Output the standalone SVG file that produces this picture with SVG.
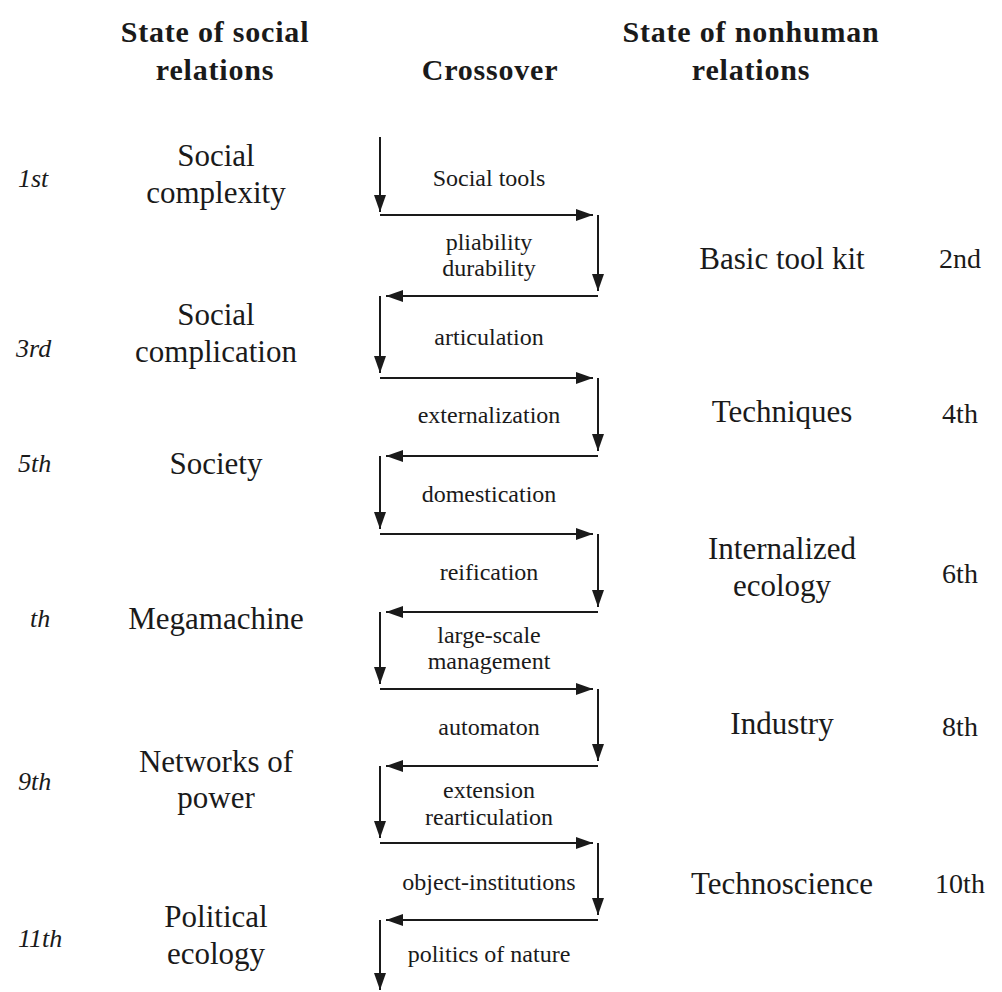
<svg xmlns="http://www.w3.org/2000/svg" width="1002" height="992" viewBox="0 0 1002 992">
<defs>
<style>
text{font-family:"Liberation Serif","Times New Roman",serif;fill:#1a1a1a}
.hd{font-size:30px;font-weight:bold;letter-spacing:0.8px;text-anchor:middle}
.nd{font-size:31px;text-anchor:middle}
.cx{font-size:24px;text-anchor:middle}
.ol{font-size:26px;font-style:italic}
.or{font-size:28px;text-anchor:middle}
.ar{stroke:#1a1a1a;stroke-width:2;fill:none;marker-end:url(#ah)}
</style>
<marker id="ah" markerUnits="userSpaceOnUse" markerWidth="17" markerHeight="12" refX="17" refY="6" orient="auto">
<path d="M0,0 L17,6 L0,12 z" fill="#1a1a1a"/>
</marker>
</defs>
<rect width="1002" height="992" fill="#ffffff"/>
<g id="headers">
<text class="hd" x="215" y="42">State of social</text>
<text class="hd" x="215" y="80">relations</text>
<text class="hd" x="490" y="80">Crossover</text>
<text class="hd" x="751" y="42">State of nonhuman</text>
<text class="hd" x="751" y="80">relations</text>
</g>
<g id="social-complexity"><text class="ol" x="18" y="187">1st</text><text class="nd" x="216" y="166">Social</text><text class="nd" x="216" y="203">complexity</text></g>
<g id="basic-tool-kit"><text class="nd" x="782" y="269">Basic tool kit</text><text class="or" x="960" y="268">2nd</text></g>
<g id="social-complication"><text class="ol" x="16" y="357">3rd</text><text class="nd" x="216" y="325">Social</text><text class="nd" x="216" y="362">complication</text></g>
<g id="techniques"><text class="nd" x="782" y="422">Techniques</text><text class="or" x="960" y="423">4th</text></g>
<g id="society"><text class="ol" x="18" y="472">5th</text><text class="nd" x="216" y="474">Society</text></g>
<g id="internalized-ecology"><text class="nd" x="782" y="559">Internalized</text><text class="nd" x="782" y="596">ecology</text><text class="or" x="960" y="583">6th</text></g>
<g id="megamachine"><text class="ol" x="30" y="627">th</text><text class="nd" x="216" y="629">Megamachine</text></g>
<g id="industry"><text class="nd" x="782" y="734">Industry</text><text class="or" x="960" y="736">8th</text></g>
<g id="networks-of-power"><text class="ol" x="18" y="790">9th</text><text class="nd" x="216" y="772">Networks of</text><text class="nd" x="216" y="808">power</text></g>
<g id="technoscience"><text class="nd" x="782" y="894">Technoscience</text><text class="or" x="960" y="893">10th</text></g>
<g id="political-ecology"><text class="ol" x="18" y="947">11th</text><text class="nd" x="216" y="927">Political</text><text class="nd" x="216" y="964">ecology</text></g>
<g id="connectors">
<line class="ar" x1="380" y1="137" x2="380" y2="212"/>
<line class="ar" x1="380" y1="215" x2="593" y2="215"/>
<line class="ar" x1="598" y1="215" x2="598" y2="291"/>
<line class="ar" x1="598" y1="296" x2="386" y2="296"/>
<line class="ar" x1="380" y1="296" x2="380" y2="373"/>
<line class="ar" x1="380" y1="378" x2="593" y2="378"/>
<line class="ar" x1="598" y1="378" x2="598" y2="451"/>
<line class="ar" x1="598" y1="456" x2="386" y2="456"/>
<line class="ar" x1="380" y1="456" x2="380" y2="529"/>
<line class="ar" x1="380" y1="534" x2="593" y2="534"/>
<line class="ar" x1="598" y1="534" x2="598" y2="607"/>
<line class="ar" x1="598" y1="612" x2="386" y2="612"/>
<line class="ar" x1="380" y1="612" x2="380" y2="684"/>
<line class="ar" x1="380" y1="689" x2="593" y2="689"/>
<line class="ar" x1="598" y1="689" x2="598" y2="761"/>
<line class="ar" x1="598" y1="766" x2="386" y2="766"/>
<line class="ar" x1="380" y1="766" x2="380" y2="838"/>
<line class="ar" x1="380" y1="843" x2="593" y2="843"/>
<line class="ar" x1="598" y1="843" x2="598" y2="915"/>
<line class="ar" x1="598" y1="920" x2="386" y2="920"/>
<line class="ar" x1="380" y1="920" x2="380" y2="990"/>
</g>
<g id="labels">
<text class="cx" x="489" y="186">Social tools</text>
<text class="cx" x="489" y="250">pliability</text>
<text class="cx" x="489" y="276">durability</text>
<text class="cx" x="489" y="345">articulation</text>
<text class="cx" x="489" y="423">externalization</text>
<text class="cx" x="489" y="502">domestication</text>
<text class="cx" x="489" y="580">reification</text>
<text class="cx" x="489" y="643">large-scale</text>
<text class="cx" x="489" y="669">management</text>
<text class="cx" x="489" y="735">automaton</text>
<text class="cx" x="489" y="798">extension</text>
<text class="cx" x="489" y="825">rearticulation</text>
<text class="cx" x="489" y="890">object-institutions</text>
<text class="cx" x="489" y="962">politics of nature</text>
</g>
</svg>
